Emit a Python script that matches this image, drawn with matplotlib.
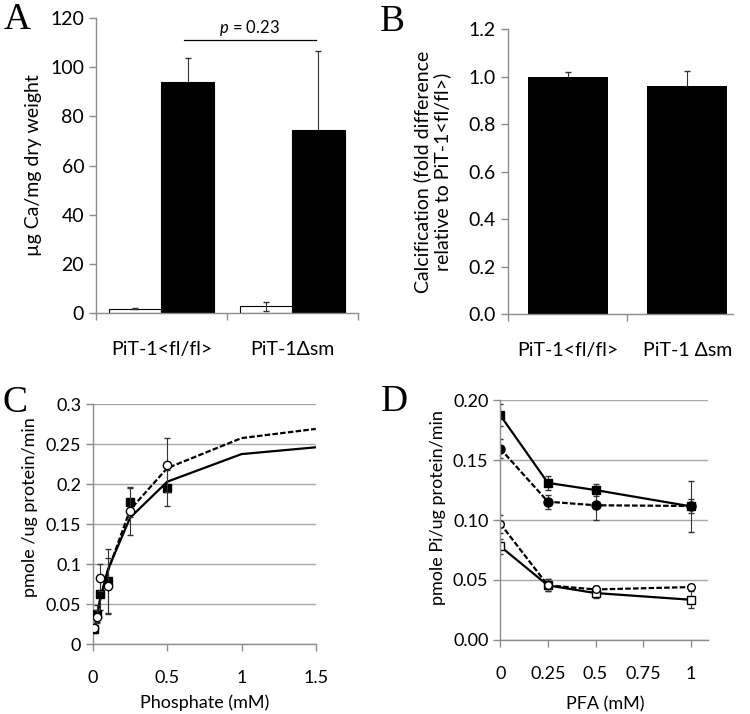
import matplotlib.pyplot as plt
import numpy as np
from matplotlib.ticker import FuncFormatter

plt.rcParams['font.family'] = ['Lato', 'DejaVu Sans']
plt.rcParams['mathtext.fontset'] = 'custom'
plt.rcParams['mathtext.it'] = 'Lato:italic'
plt.rcParams['mathtext.rm'] = 'Lato'

AXIS_GRAY = '#8c8c8c'
GRID_GRAY = '#a8a8a8'
ERR_GRAY = '#333333'
DASH = (0, (2.5, 1))

# panel A: calcium content, control (white) vs calcifying (black)
groups_a = ['PiT-1<fl/fl>', 'PiT-1Δsm']
ctrl_a = [1.8, 2.7]
ctrl_err_a = [0.3, 1.8]
calc_a = [93.8, 74.5]
calc_err_a = [9.8, 32.0]

# panel B: fold difference
groups_b = ['PiT-1<fl/fl>', 'PiT-1 Δsm']
fold_b = [1.0, 0.96]
fold_err_b = [0.02, 0.065]

# panel C: uptake vs phosphate
phos_c = [0.01, 0.025, 0.05, 0.1, 0.25, 0.5]
sq_c = [0.019, 0.038, 0.0625, 0.079, 0.177, 0.195]
sq_err_c = [0.005, 0.011, 0.02, 0.04, 0.018, 0.023]
circ_c = [0.02, 0.034, 0.083, 0.073, 0.166, 0.224]
circ_err_c = [0.004, 0.008, 0.017, 0.035, 0.03, 0.034]
fit_x_c = [0.01, 0.025, 0.05, 0.1, 0.25, 0.5, 1.0, 1.5]
fit_sq_c = [0.015, 0.035, 0.058, 0.093, 0.158, 0.203, 0.2375, 0.246]
fit_circ_c = [0.014, 0.033, 0.057, 0.091, 0.168, 0.22, 0.2575, 0.269]

# panel D: uptake vs PFA
pfa_d = [0, 0.25, 0.5, 1.0]
fsq_d = [0.1875, 0.131, 0.125, 0.1114]
fsq_err_d = [0.009, 0.006, 0.005, 0.021]
fcirc_d = [0.1596, 0.1153, 0.1123, 0.1117]
fcirc_err_d = [0.008, 0.006, 0.0125, 0.006]
ocirc_d = [0.097, 0.0454, 0.042, 0.044]
ocirc_err_d = [0.0075, 0.005, 0.003, 0.002]
osq_d = [0.078, 0.0454, 0.039, 0.0334]
osq_err_d = [0.006, 0.005, 0.004, 0.007]


def excel_axes(ax):
    for side in ['top', 'right']:
        ax.spines[side].set_visible(False)
    for side in ['left', 'bottom']:
        ax.spines[side].set_color(AXIS_GRAY)
        ax.spines[side].set_linewidth(1.0)
    ax.tick_params(which='both', direction='out', color=AXIS_GRAY, length=5, width=1.0)


fig = plt.figure(figsize=(7.5, 7.14), dpi=100)

# ---- A ----
ax = fig.add_axes([0.128, 0.5616, 0.349, 0.4132])
excel_axes(ax)
x = np.arange(len(groups_a))
ax.bar(x - 0.2, ctrl_a, 0.4, color='white', edgecolor='black', linewidth=0.8, zorder=2)
ax.bar(x + 0.2, calc_a, 0.4, color='black', edgecolor='black', linewidth=0.8, zorder=2)
ax.errorbar(x - 0.2, ctrl_a, yerr=ctrl_err_a, fmt='none', ecolor=ERR_GRAY, elinewidth=0.8,
            capsize=2, zorder=3)
# lower half sits behind the black bar
ax.errorbar(x + 0.2, calc_a, yerr=calc_err_a, fmt='none', ecolor=ERR_GRAY, elinewidth=0.8,
            capsize=2, zorder=1)
ax.set_xlim(-0.5, 1.5)
ax.set_ylim(0, 120)
ax.set_yticks(range(0, 121, 20))
ax.set_xticks(x)
ax.set_xticklabels(groups_a)
ax.set_xticks([-0.5, 0.5, 1.5], minor=True)
ax.tick_params(axis='x', which='major', length=0, pad=20)
ax.tick_params(labelsize=14)
ax.set_ylabel('µg Ca/mg dry weight', fontsize=14, va='center')
ax.yaxis.set_label_coords(-0.24, 0.5)
ax.plot([0.17, 1.18], [111, 111], color='black', lw=0.9, clip_on=False)
ax.text(0.675, 112, r'$p$ = 0.23', ha='center', va='bottom', fontsize=12)
fig.text(0.005, 0.997, 'A', family='Liberation Serif', fontsize=27, va='top', ha='left')

# ---- B ----
ax = fig.add_axes([0.677, 0.560, 0.300, 0.399])
excel_axes(ax)
x = np.arange(len(groups_b))
ax.bar(x, fold_b, 0.667, color='black', zorder=2)
ax.errorbar(x, fold_b, yerr=fold_err_b, fmt='none', ecolor=ERR_GRAY, elinewidth=0.8,
            capsize=2, zorder=1)
ax.set_xlim(-0.5, 1.38)
ax.set_ylim(0, 1.2)
ax.set_yticks(np.arange(0, 1.21, 0.2))
ax.yaxis.set_major_formatter(FuncFormatter(lambda v, p: f'{v:.1f}'))
ax.set_xticks(x)
ax.set_xticklabels(groups_b)
ax.set_xticks([-0.5, 0.5], minor=True)
ax.tick_params(axis='x', which='major', length=0, pad=20)
ax.tick_params(labelsize=14)
ax.set_ylabel('Calcification (fold difference\nrelative to PiT-1<fl/fl>)', fontsize=14, va='center',
              linespacing=1.1)
ax.yaxis.set_label_coords(-0.335, 0.5)
fig.text(0.507, 0.993, 'B', family='Liberation Serif', fontsize=27, va='top', ha='left')

# ---- C ----
ax = fig.add_axes([0.124, 0.098, 0.297, 0.336])
excel_axes(ax)
ax.yaxis.grid(True, color=GRID_GRAY, lw=1.0)
ax.set_axisbelow(True)
ax.plot(fit_x_c, fit_sq_c, color='black', lw=1.6, zorder=3)
ax.plot(fit_x_c, fit_circ_c, color='black', lw=1.6, ls=DASH, zorder=3)
ax.errorbar(phos_c, sq_c, yerr=sq_err_c, fmt='s', color='black', ms=6, ecolor=ERR_GRAY,
            elinewidth=0.8, capsize=2, zorder=4)
ax.errorbar(phos_c, circ_c, yerr=circ_err_c, fmt='o', mfc='white', mec='black', ms=6,
            ecolor=ERR_GRAY, elinewidth=0.8, capsize=2, zorder=5)
ax.set_xlim(0, 1.5)
ax.set_ylim(0, 0.3)
ax.set_xticks([0, 0.5, 1, 1.5])
ax.set_yticks(np.arange(0, 0.31, 0.05))
ax.xaxis.set_major_formatter(FuncFormatter(lambda v, p: f'{v:g}'))
ax.yaxis.set_major_formatter(FuncFormatter(lambda v, p: f'{round(v, 2):g}'))
ax.tick_params(labelsize=13)
ax.tick_params(axis='x', pad=14)
ax.set_xlabel('Phosphate (mM)', fontsize=13)
ax.xaxis.set_label_coords(0.5, -0.212)
ax.set_ylabel('pmole /ug protein/min', fontsize=13, va='center')
ax.yaxis.set_label_coords(-0.283, 0.57)
fig.text(0.003, 0.46, 'C', family='Liberation Serif', fontsize=27, va='top', ha='left')

# ---- D ----
ax = fig.add_axes([0.667, 0.104, 0.277, 0.3354])
excel_axes(ax)
ax.yaxis.grid(True, color=GRID_GRAY, lw=1.0)
ax.set_axisbelow(True)
kw = dict(ecolor=ERR_GRAY, elinewidth=0.8, capsize=2, lw=1.6, color='black')
ax.errorbar(pfa_d, fsq_d, yerr=fsq_err_d, fmt='-s', ms=6, **kw)
ax.errorbar(pfa_d, fcirc_d, yerr=fcirc_err_d, fmt='o', ls=DASH, ms=6.5, **kw)
ax.errorbar(pfa_d, osq_d, yerr=osq_err_d, fmt='-s', mfc='white', ms=5.5, **kw)
ax.errorbar(pfa_d, ocirc_d, yerr=ocirc_err_d, fmt='o', ls=DASH, mfc='white', ms=5.5, **kw)
ax.set_xlim(0, 1.09)
ax.set_ylim(0, 0.2)
ax.set_xticks([0, 0.25, 0.5, 0.75, 1])
ax.set_yticks(np.arange(0, 0.201, 0.05))
ax.xaxis.set_major_formatter(FuncFormatter(lambda v, p: f'{v:g}'))
ax.yaxis.set_major_formatter(FuncFormatter(lambda v, p: f'{v:.2f}'))
ax.tick_params(labelsize=13)
ax.tick_params(axis='x', pad=14)
ax.set_xlabel('PFA (mM)', fontsize=13)
ax.xaxis.set_label_coords(0.505, -0.235)
ax.set_ylabel('pmole Pi/ug protein/min', fontsize=13, va='center')
ax.yaxis.set_label_coords(-0.298, 0.55)
fig.text(0.508, 0.462, 'D', family='Liberation Serif', fontsize=27, va='top', ha='left')

fig.savefig('out.png', dpi=100)
